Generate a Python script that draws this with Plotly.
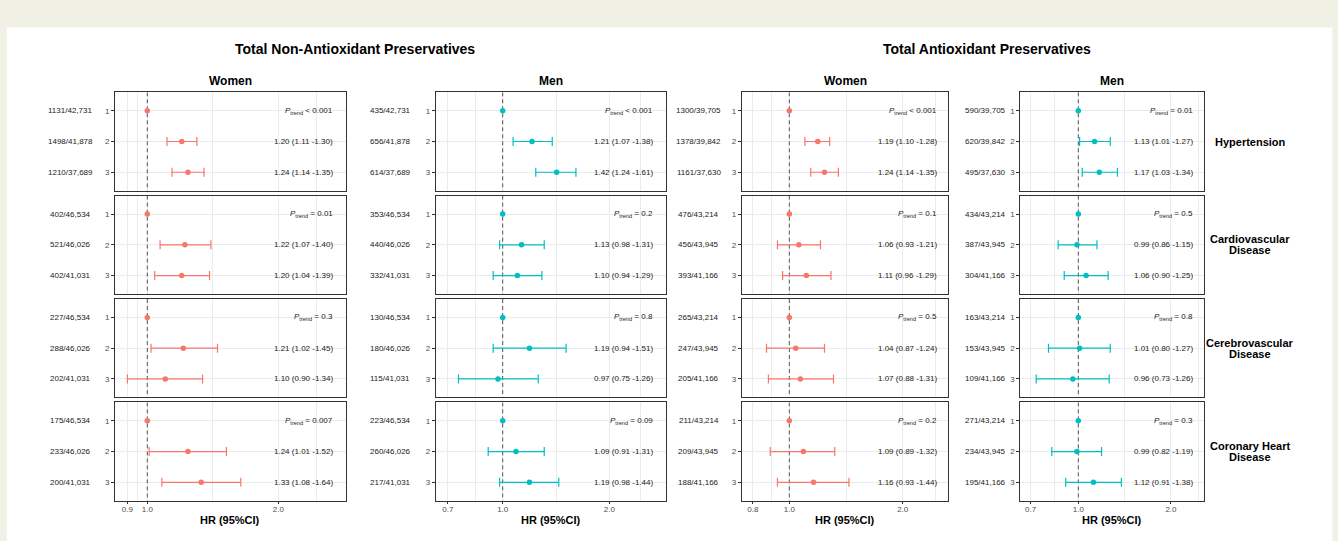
import math
import plotly.graph_objects as go

W, H = 1338, 541

# ---------------- data ----------------
outcomes = ["Hypertension", "Cardiovascular<br>Disease", "Cerebrovascular<br>Disease", "Coronary Heart<br>Disease"]
quantile_labels = ["1", "2", "3"]
group_titles = ["Total Non-Antioxidant Preservatives", "Total Antioxidant Preservatives"]
sex_labels = ["Women", "Men", "Women", "Men"]
x_title = "HR (95%CI)"

# Total non-antioxidant preservatives, women
nonaox_women_cases = [["1131/42,731", "1498/41,878", "1210/37,689"],
                      ["402/46,534", "521/46,026", "402/41,031"],
                      ["227/46,534", "288/46,026", "202/41,031"],
                      ["175/46,534", "233/46,026", "200/41,031"]]
nonaox_women_hr = [[1.00, 1.20, 1.24], [1.00, 1.22, 1.20], [1.00, 1.21, 1.10], [1.00, 1.24, 1.33]]
nonaox_women_lo = [[1.00, 1.11, 1.14], [1.00, 1.07, 1.04], [1.00, 1.02, 0.90], [1.00, 1.01, 1.08]]
nonaox_women_hi = [[1.00, 1.30, 1.35], [1.00, 1.40, 1.39], [1.00, 1.45, 1.34], [1.00, 1.52, 1.64]]
nonaox_women_p = ["< 0.001", "= 0.01", "= 0.3", "= 0.007"]

# Total non-antioxidant preservatives, men
nonaox_men_cases = [["435/42,731", "656/41,878", "614/37,689"],
                    ["353/46,534", "440/46,026", "332/41,031"],
                    ["130/46,534", "180/46,026", "115/41,031"],
                    ["223/46,534", "260/46,026", "217/41,031"]]
nonaox_men_hr = [[1.00, 1.21, 1.42], [1.00, 1.13, 1.10], [1.00, 1.19, 0.97], [1.00, 1.09, 1.19]]
nonaox_men_lo = [[1.00, 1.07, 1.24], [1.00, 0.98, 0.94], [1.00, 0.94, 0.75], [1.00, 0.91, 0.98]]
nonaox_men_hi = [[1.00, 1.38, 1.61], [1.00, 1.31, 1.29], [1.00, 1.51, 1.26], [1.00, 1.31, 1.44]]
nonaox_men_p = ["< 0.001", "= 0.2", "= 0.8", "= 0.09"]

# Total antioxidant preservatives, women
aox_women_cases = [["1300/39,705", "1378/39,842", "1161/37,630"],
                   ["476/43,214", "456/43,945", "393/41,166"],
                   ["265/43,214", "247/43,945", "205/41,166"],
                   ["211/43,214", "209/43,945", "188/41,166"]]
aox_women_hr = [[1.00, 1.19, 1.24], [1.00, 1.06, 1.11], [1.00, 1.04, 1.07], [1.00, 1.09, 1.16]]
aox_women_lo = [[1.00, 1.10, 1.14], [1.00, 0.93, 0.96], [1.00, 0.87, 0.88], [1.00, 0.89, 0.93]]
aox_women_hi = [[1.00, 1.28, 1.35], [1.00, 1.21, 1.29], [1.00, 1.24, 1.31], [1.00, 1.32, 1.44]]
aox_women_p = ["< 0.001", "= 0.1", "= 0.5", "= 0.2"]

# Total antioxidant preservatives, men
aox_men_cases = [["590/39,705", "620/39,842", "495/37,630"],
                 ["434/43,214", "387/43,945", "304/41,166"],
                 ["163/43,214", "153/43,945", "109/41,166"],
                 ["271/43,214", "234/43,945", "195/41,166"]]
aox_men_hr = [[1.00, 1.13, 1.17], [1.00, 0.99, 1.06], [1.00, 1.01, 0.96], [1.00, 0.99, 1.12]]
aox_men_lo = [[1.00, 1.01, 1.03], [1.00, 0.86, 0.90], [1.00, 0.80, 0.73], [1.00, 0.82, 0.91]]
aox_men_hi = [[1.00, 1.27, 1.34], [1.00, 1.15, 1.25], [1.00, 1.27, 1.26], [1.00, 1.19, 1.38]]
aox_men_p = ["= 0.01", "= 0.5", "= 0.8", "= 0.3"]

# axis breaks per column
major_breaks = [[0.9, 1.0, 2.0, 3.0], [0.7, 1.0, 2.0, 3.0], [0.8, 1.0, 2.0, 3.0], [0.7, 1.0, 2.0, 3.0]]
major_labels = [["0.9", "1.0", "2.0", "3.0"], ["0.7", "1.0", "2.0", "3.0"],
                ["0.8", "1.0", "2.0", "3.0"], ["0.7", "1.0", "2.0", "3.0"]]

# ---------------- styling / layout geometry ----------------
WOMEN = "#F8766D"
MEN = "#00BFC4"
FONT = "Liberation Sans, Arial, sans-serif"

panels = [
    dict(cases=nonaox_women_cases, hr=nonaox_women_hr, lo=nonaox_women_lo, hi=nonaox_women_hi, p=nonaox_women_p, color=WOMEN),
    dict(cases=nonaox_men_cases, hr=nonaox_men_hr, lo=nonaox_men_lo, hi=nonaox_men_hi, p=nonaox_men_p, color=MEN),
    dict(cases=aox_women_cases, hr=aox_women_hr, lo=aox_women_lo, hi=aox_women_hi, p=aox_women_p, color=WOMEN),
    dict(cases=aox_men_cases, hr=aox_men_hr, lo=aox_men_lo, hi=aox_men_hi, p=aox_men_p, color=MEN),
]

col_px = [(115, 345.7), (435.7, 665.7), (741.7, 948.3), (1020.3, 1203.7)]
x_ranges = [(-0.0742, 0.4559), (-0.1892, 0.4603), (-0.1264, 0.4221), (-0.1884, 0.4073)]
row_tops = [92.3, 195.6, 299.0, 402.4]
row_h = 98.4
count_cx = [70, 390, 699, 985]
est_right = [335, 655, 939, 1195]
row_label_x = 1250
row_label_gap = 11.0
title_cx = [354.5, 987]


def px_x(v):
    return v / W


def px_y(v):
    return 1 - v / H


fig = go.Figure()
layout_axes = {}
annotations = []

for c, pan in enumerate(panels):
    lo_log, hi_log = x_ranges[c]
    mb = major_breaks[c]
    minors = [math.sqrt(mb[i] * mb[i + 1]) for i in range(len(mb) - 1)]
    for r in range(4):
        k = r * 4 + c + 1
        xa = "x" if k == 1 else f"x{k}"
        ya = "y" if k == 1 else f"y{k}"
        xkey = "xaxis" if k == 1 else f"xaxis{k}"
        ykey = "yaxis" if k == 1 else f"yaxis{k}"
        top = row_tops[r]
        bottom = top + row_h
        layout_axes[xkey] = dict(
            domain=[px_x(col_px[c][0]), px_x(col_px[c][1])],
            anchor=ya, type="log", range=[lo_log, hi_log],
            tickmode="array", tickvals=mb, ticktext=major_labels[c],
            showticklabels=(r == 3), ticks="outside" if r == 3 else "",
            ticklen=2.5, tickwidth=1, tickcolor="#333333", ticklabelstandoff=-2,
            tickfont=dict(size=8, color="#4D4D4D", family=FONT),
            showgrid=True, gridcolor="#EBEBEB", gridwidth=1,
            minor=dict(tickmode="array", tickvals=minors, showgrid=True,
                       gridcolor="#EBEBEB", gridwidth=0.8, ticks=""),
            showline=True, mirror=True, linecolor="#333333", linewidth=1,
            zeroline=False, fixedrange=True,
        )
        layout_axes[ykey] = dict(
            domain=[px_y(bottom), px_y(top)], anchor=xa,
            range=[3.6, 0.4], tickmode="array", tickvals=[1, 2, 3], ticktext=quantile_labels,
            ticks="outside", ticklen=3, tickwidth=1, tickcolor="#333333",
            tickfont=dict(size=8, color="#4D4D4D", family=FONT),
            showgrid=True, gridcolor="#EBEBEB", gridwidth=1,
            showline=True, mirror=True, linecolor="#333333", linewidth=1,
            zeroline=False, fixedrange=True,
        )
        # reference line at HR = 1
        fig.add_trace(go.Scatter(x=[1, 1], y=[0.4, 3.6], mode="lines", xaxis=xa, yaxis=ya,
                                 line=dict(color="#444444", width=0.9, dash="4px,3px"),
                                 hoverinfo="skip", showlegend=False))
        hr = pan["hr"][r]
        lo = pan["lo"][r]
        hi = pan["hi"][r]
        # reference quantile point
        fig.add_trace(go.Scatter(x=[hr[0]], y=[1], mode="markers", xaxis=xa, yaxis=ya,
                                 marker=dict(color=pan["color"], size=5.5),
                                 showlegend=False))
        # other quantiles with CI
        fig.add_trace(go.Scatter(
            x=hr[1:], y=[2, 3], mode="markers", xaxis=xa, yaxis=ya,
            marker=dict(color=pan["color"], size=5.5),
            error_x=dict(type="data", symmetric=False,
                         array=[hi[i] - hr[i] for i in range(1, 3)],
                         arrayminus=[hr[i] - lo[i] for i in range(1, 3)],
                         color=pan["color"], thickness=1.2, width=4.5),
            showlegend=False))
        # case counts
        for q in range(3):
            annotations.append(dict(x=px_x(count_cx[c]), xref="paper", y=q + 1, yref=ya,
                                    text=pan["cases"][r][q], showarrow=False, xanchor="center",
                                    yanchor="middle", font=dict(size=8, color="#1A1A1A", family=FONT)))
        # P trend
        annotations.append(dict(x=px_x(est_right[c]), xref="paper", y=1, yref=ya,
                                text="<i>P</i><sub>trend</sub> " + pan["p"][r].replace("<", "&lt;"),
                                showarrow=False, xanchor="right", yanchor="middle",
                                font=dict(size=8, color="#1A1A1A", family=FONT)))
        # estimates
        for q in range(1, 3):
            txt = f"{hr[q]:.2f} ({lo[q]:.2f} -{hi[q]:.2f})"
            annotations.append(dict(x=px_x(est_right[c]), xref="paper", y=q + 1, yref=ya,
                                    text=txt, showarrow=False, xanchor="right", yanchor="middle",
                                    font=dict(size=8, color="#1A1A1A", family=FONT)))
    # sex facet title
    cx = (col_px[c][0] + col_px[c][1]) / 2
    annotations.append(dict(x=px_x(cx), xref="paper", y=px_y(81), yref="paper", text=f"<b>{sex_labels[c]}</b>",
                            showarrow=False, xanchor="center", yanchor="middle",
                            font=dict(size=12, color="#000000", family=FONT)))
    # x-axis title
    annotations.append(dict(x=px_x(cx), xref="paper", y=px_y(519.5), yref="paper", text=f"<b>{x_title}</b>",
                            showarrow=False, xanchor="center", yanchor="middle",
                            font=dict(size=11, color="#000000", family=FONT)))

# group titles
for g in range(2):
    annotations.append(dict(x=px_x(title_cx[g]), xref="paper", y=px_y(48.5), yref="paper",
                            text=f"<b>{group_titles[g]}</b>", showarrow=False, xanchor="center",
                            yanchor="middle", font=dict(size=14, color="#000000", family=FONT)))

# outcome row labels (tight line spacing, one annotation per line)
for r in range(4):
    cy = row_tops[r] + row_h / 2
    lines = outcomes[r].split("<br>")
    n = len(lines)
    for i, line in enumerate(lines):
        ly = cy + (i - (n - 1) / 2) * row_label_gap
        annotations.append(dict(x=px_x(row_label_x), xref="paper", y=px_y(ly), yref="paper",
                                text=f"<b>{line}</b>", showarrow=False, xanchor="center",
                                yanchor="middle", align="center",
                                font=dict(size=11, color="#000000", family=FONT)))

BEIGE = "#F0F0E4"
shapes = [
    dict(type="rect", xref="paper", yref="paper", x0=0, x1=1, y0=px_y(27.5), y1=1,
         fillcolor=BEIGE, line=dict(width=0), layer="below"),
    dict(type="rect", xref="paper", yref="paper", x0=0, x1=px_x(6.7), y0=0, y1=1,
         fillcolor=BEIGE, line=dict(width=0), layer="below"),
    dict(type="rect", xref="paper", yref="paper", x0=px_x(1332.5), x1=1, y0=0, y1=1,
         fillcolor=BEIGE, line=dict(width=0), layer="below"),
]

fig.update_layout(
    width=W, height=H, margin=dict(l=0, r=0, t=0, b=0),
    paper_bgcolor="white", plot_bgcolor="white",
    font=dict(family=FONT, size=8, color="#000000"),
    showlegend=False, annotations=annotations, shapes=shapes,
    **layout_axes,
)

fig.write_html("out.html", config={"displayModeBar": False},
               post_script="document.body.style.margin='0';document.body.style.overflow='hidden';")
